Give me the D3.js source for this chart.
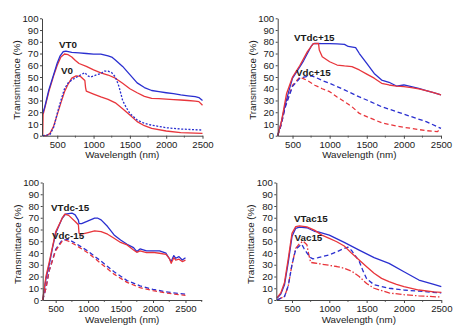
<!DOCTYPE html>
<html lang="en">
<head>
<meta charset="UTF-8">
<title>Transmittance spectra</title>
<style>
  body { margin: 0; background: #fff; }
  svg text { font-family: Arial, "Liberation Sans", sans-serif; fill: #1a1a1a; }
</style>
</head>
<body>
<div id="chart"></div>
<script src="https://d3js.org/d3.v7.min.js"></script>
<script>
// Spectra: [wavelength nm, transmittance %]
const vt0Blue = [[300,19],[330,25],[384,39],[450,52],[500,62],[540,68],[580,71.5],[620,72],[700,71],[800,70.5],[900,70],[1000,69.5],[1100,69.5],[1200,68],[1250,67],[1300,64.5],[1400,59],[1500,52],[1600,45],[1700,41],[1800,38.5],[1900,37.5],[2000,36.6],[2100,35.8],[2200,34.8],[2300,34],[2400,33.2],[2450,32.5],[2500,30]];
const vt0Red = [[300,0],[305,18],[330,24],[384,37.5],[450,51],[500,60],[550,67],[600,69.6],[650,69],[700,67],[750,64],[800,61.5],[900,59],[1000,56],[1100,53.5],[1200,51.7],[1300,49],[1400,44.6],[1500,40],[1600,36.6],[1700,33.5],[1800,31.8],[1900,31.5],[2000,31.2],[2100,30.8],[2200,30.4],[2300,30],[2400,29.5],[2450,29],[2500,26]];
const v0Blue = [[300,0],[350,0.5],[400,1],[454,7.7],[500,19],[550,30],[600,40],[650,45],[700,47.5],[800,51],[880,53.7],[920,51],[960,50],[1000,51],[1050,52],[1100,53],[1150,55],[1200,55],[1250,53.7],[1300,50],[1350,42],[1400,30],[1450,24],[1500,19],[1600,13.4],[1700,10.5],[1800,9],[2000,6.8],[2200,5.7],[2500,4.8]];
const v0Red = [[300,0],[350,0],[400,2],[450,8],[500,18],[550,28],[600,37.5],[650,44],[700,49],[760,51],[820,50.5],[880,47],[890,41],[900,38],[1000,35.5],[1100,33],[1200,31],[1300,28],[1400,23],[1500,17.6],[1600,12],[1700,8.5],[1800,6.2],[2000,4],[2200,2.6],[2500,2]];

const vtdcP15Blue = [[300,0],[350,12],[400,26],[450,38],[500,49],[550,54],[600,58.8],[650,64],[700,70],[750,76],[780,78.5],[800,78.7],[900,78.5],[1000,78.4],[1100,78.2],[1200,77.8],[1250,76],[1350,75],[1400,70],[1500,61.6],[1600,53],[1700,47.4],[1800,45.5],[1900,42.3],[2000,43.2],[2100,41.8],[2200,40.3],[2300,38.4],[2400,36.6],[2500,34.7]];
const vtdcP15Red = [[300,0],[350,12],[420,36],[500,50],[600,60],[700,71.6],[780,78.5],[850,78.7],[860,73],[900,67.3],[1000,63],[1100,60.2],[1200,59.4],[1300,58.8],[1400,56],[1500,52.5],[1600,49],[1700,44.6],[1800,43.2],[1900,42.3],[2000,41.8],[2100,41],[2200,39.8],[2300,38.4],[2400,36.6],[2500,34.7]];
const vdcP15Blue = [[300,0],[350,10],[400,24],[500,42],[600,49],[700,50.5],[750,51],[800,50],[900,47],[1000,44.6],[1200,39],[1400,33],[1500,30.4],[1700,24.7],[1900,20.5],[2100,16.2],[2300,12],[2500,6.2]];
const vdcP15Red = [[300,0],[350,10],[400,25],[500,43],[600,50],[700,47],[800,43],[900,40],[1000,37.5],[1100,33],[1200,29],[1300,24.7],[1400,19],[1500,16.2],[1700,11],[1900,8.2],[2100,6.2],[2300,4.3],[2450,3.4],[2500,6]];

const vtdcM15Red = [[300,0],[350,20],[400,32],[450,45],[500,58],[600,69.6],[640,73],[700,72],[800,66.8],[850,64],[860,56.8],[900,56],[1000,57.4],[1100,58.8],[1200,58.2],[1300,56],[1400,52.6],[1500,49],[1600,46.9],[1700,42.6],[1750,40.6],[1800,41.8],[1900,40.3],[2000,40.6],[2100,39.8],[2200,38.9],[2250,35.5],[2280,31.2],[2320,36],[2350,34],[2400,34.7],[2450,32.7],[2500,34]];
const vtdcM15Blue = [[300,0],[350,18],[400,30],[450,44],[500,56.8],[600,69.6],[650,73],[750,74],[800,72.4],[850,68],[860,65],[900,65],[1000,67.3],[1100,69.6],[1150,69.6],[1200,68.2],[1300,62.5],[1400,55.4],[1500,51],[1600,47.4],[1700,44.6],[1750,41.2],[1800,43.5],[1900,41.8],[2000,41.8],[2100,41.8],[2200,39.8],[2280,32.7],[2320,37.8],[2350,35.5],[2400,36.9],[2450,34],[2500,36]];
const vdcM15Red = [[300,0],[350,10],[400,25],[500,42],[600,50],[650,51],[700,50],[800,47],[1000,40],[1200,31],[1400,22],[1600,15],[1800,10.5],[2000,8],[2200,6],[2400,4.5],[2500,4]];
const vdcM15Blue = [[300,0],[350,10],[400,25],[500,43],[600,51],[700,51.5],[800,48.5],[1000,41.5],[1200,33],[1400,24],[1600,16.5],[1800,12],[2000,9],[2200,7],[2400,5.5],[2500,5]];

const vtac15Red = [[300,2],[350,6],[400,15],[450,35],[500,56.7],[550,62.5],[600,63],[700,62.3],[800,59.5],[900,55.2],[1000,52.4],[1100,49.6],[1200,46],[1300,39.7],[1400,34],[1500,28.3],[1600,22.7],[1700,18.4],[1800,15.6],[1900,13.3],[2000,11.3],[2200,8.5],[2400,7],[2500,6.5]];
const vtac15Blue = [[300,1.5],[350,5],[400,13],[450,32],[500,54],[550,61],[600,62],[700,61.5],[800,58.5],[850,58],[1000,55.2],[1200,49],[1400,42.5],[1600,36],[1800,31.2],[2000,24],[2200,17],[2400,13.3],[2500,11.3]];
const vac15Blue = [[300,0],[400,3],[450,12],[500,30],[550,43],[600,46],[630,47.5],[660,44],[700,40],[750,36],[780,35],[850,36],[1000,38.5],[1100,41],[1200,44],[1250,45],[1300,42],[1400,33],[1450,25],[1500,18],[1600,13],[1800,10],[2000,8.5],[2200,7.5],[2500,6]];
const vac15Red = [[300,0],[400,3],[450,12],[500,30],[550,44],[600,48],[650,50],[700,47],[720,40],[750,32],[800,31.5],[900,30.5],[1000,29.5],[1100,28.5],[1200,27],[1300,24.5],[1400,20],[1500,14],[1600,10],[1800,6],[2000,4.5],[2200,3.5],[2500,2.5]];

const xTicks = [500, 1000, 1500, 2000, 2500];
const yTicks = [0, 10, 20, 30, 40, 50, 60, 70, 80, 90, 100];
const sampleLabels = [["VT0", "V0"], ["VTdc+15", "Vdc+15"], ["VTdc-15", "Vdc-15"], ["VTac15", "Vac15"]];

const BLUE = "#2a2fd0", RED = "#e8353b";
const dashes = { solid: null, dot: "2,1.6", dash: "4.5,2.8", dashdot: "6,2,1.5,2" };

// panel frames: plot area in page pixels and x domain
const panels = [
  { x0: 42, x1: 202.5, y0: 135.7, y1: 18.3, xmin: 290, xmax: 2500,
    series: [[v0Red, RED, "solid"], [vt0Red, RED, "solid"], [v0Blue, BLUE, "dot"], [vt0Blue, BLUE, "solid"]],
    labels: [[59, 45], [61, 71]] },
  { x0: 277.7, x1: 441, y0: 135.7, y1: 18.3, xmin: 300, xmax: 2500,
    series: [[vdcP15Red, RED, "dash"], [vdcP15Blue, BLUE, "dash"], [vtdcP15Blue, BLUE, "solid"], [vtdcP15Red, RED, "solid"]],
    labels: [[294, 38], [296, 73]] },
  { x0: 42.7, x1: 201.7, y0: 300, y1: 182.5, xmin: 300, xmax: 2750,
    series: [[vdcM15Blue, BLUE, "dash"], [vdcM15Red, RED, "dash"], [vtdcM15Blue, BLUE, "solid"], [vtdcM15Red, RED, "solid"]],
    labels: [[51, 208], [52, 236]] },
  { x0: 276.3, x1: 441.3, y0: 300, y1: 182.5, xmin: 290, xmax: 2500,
    series: [[vac15Red, RED, "dashdot"], [vac15Blue, BLUE, "dash"], [vtac15Blue, BLUE, "solid"], [vtac15Red, RED, "solid"]],
    labels: [[294, 218.5], [294.5, 238]] }
];

const svg = d3.select("#chart").append("svg")
  .attr("width", 474).attr("height", 329);

panels.forEach((p, i) => {
  const x = d3.scaleLinear().domain([p.xmin, p.xmax]).range([p.x0, p.x1]);
  const y = d3.scaleLinear().domain([0, 100]).range([p.y0, p.y1]);
  const g = svg.append("g");

  // curves
  const line = d3.line().x(d => x(d[0])).y(d => y(d[1]));
  p.series.forEach(([data, color, style]) => {
    g.append("path")
      .datum(data)
      .attr("d", line)
      .attr("fill", "none")
      .attr("stroke", color)
      .attr("stroke-width", 1.3)
      .attr("stroke-linejoin", "round")
      .attr("stroke-dasharray", dashes[style]);
  });

  // minor x ticks
  const minor = d3.range(750, p.xmax + 1, 500);
  g.selectAll(".minor").data(minor).join("line")
    .attr("x1", d => x(d)).attr("x2", d => x(d))
    .attr("y1", p.y0).attr("y2", p.y0 + 2)
    .attr("stroke", "#444").attr("stroke-width", 0.8);

  const xAxis = g.append("g")
    .attr("transform", `translate(0,${p.y0})`)
    .call(d3.axisBottom(x).tickValues(xTicks).tickFormat(d3.format("d"))
      .tickSize(3).tickPadding(2.5).tickSizeOuter(0));
  const yAxis = g.append("g")
    .attr("transform", `translate(${p.x0},0)`)
    .call(d3.axisLeft(y).tickValues(yTicks).tickFormat(d3.format("d"))
      .tickSize(2).tickPadding(1.5).tickSizeOuter(0));

  [xAxis, yAxis].forEach(a => {
    a.select(".domain").attr("stroke", "#444").attr("stroke-width", 1);
    a.selectAll(".tick line").attr("stroke", "#444");
    a.selectAll("text").attr("font-size", 9.6).attr("fill", "#1a1a1a")
      .style("font-family", "Arial, 'Liberation Sans', sans-serif");
  });

  g.append("text")
    .attr("x", (p.x0 + p.x1) / 2).attr("y", p.y0 + 22.5)
    .attr("text-anchor", "middle").attr("font-size", 9.8)
    .text("Wavelength (nm)");

  g.append("text")
    .attr("transform", `translate(${p.x0 - 22},${(p.y0 + p.y1) / 2 + 3}) rotate(-90)`)
    .attr("text-anchor", "middle").attr("font-size", 9.8)
    .text("Transmittance (%)");

  sampleLabels[i].forEach((t, k) => {
    g.append("text")
      .attr("x", p.labels[k][0]).attr("y", p.labels[k][1])
      .attr("dy", "0.35em")
      .attr("font-size", 9.8).attr("font-weight", "bold")
      .text(t);
  });
});
</script>
</body>
</html>
